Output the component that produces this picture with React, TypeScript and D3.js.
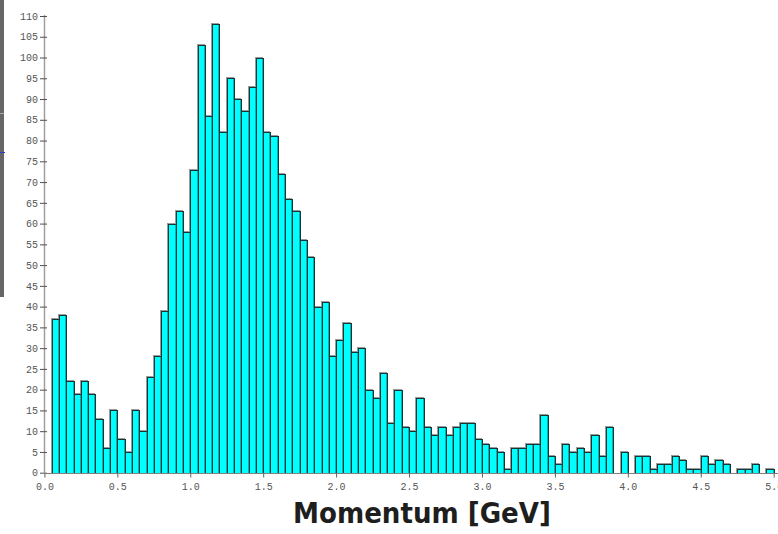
import React from 'react';
import { select, scaleLinear, axisLeft, axisBottom, range } from 'd3';

// momentum histogram, 0.05 GeV bins from 0.00 to 5.00
const counts = [
  0, 37, 38, 22, 19, 22, 19, 13, 6, 15,
  8, 5, 15, 10, 23, 28, 39, 60, 63, 58,
  73, 103, 86, 108, 82, 95, 90, 87, 93, 100,
  82, 81, 72, 66, 63, 56, 52, 40, 41, 28,
  32, 36, 29, 30, 20, 18, 24, 12, 20, 11,
  10, 18, 11, 9, 11, 9, 11, 12, 12, 8,
  7, 6, 5, 1, 6, 6, 7, 7, 14, 4,
  2, 7, 5, 6, 5, 9, 4, 11, 0, 5,
  0, 4, 4, 1, 2, 2, 4, 3, 1, 1,
  4, 2, 3, 2, 0, 1, 1, 2, 0, 1,
];
const binLow = range(counts.length).map(i => i * 0.05);
const binHigh = range(counts.length).map(i => (i + 1) * 0.05);

const xTicks = [0, 0.5, 1, 1.5, 2, 2.5, 3, 3.5, 4, 4.5, 5];
const yTicks = [0, 5, 10, 15, 20, 25, 30, 35, 40, 45, 50, 55, 60, 65, 70, 75, 80, 85, 90, 95, 100, 105, 110];
const title = 'Momentum [GeV]';

const W = 778;
const H = 534;

const x = scaleLinear().domain([0, 5]).range([44.4, 773.7]);
const y = scaleLinear().domain([0, 110]).range([472.7, 16]);

const App: React.FC = () => {
  const svgRef = React.useRef<SVGSVGElement>(null);

  React.useEffect(() => {
    const svg = select(svgRef.current);
    svg.selectAll('*').remove();

    // side strip
    svg.append('rect').attr('x', 0).attr('y', 0).attr('width', 4).attr('height', 297).attr('fill', '#666');
    svg.append('line').attr('x1', 0).attr('x2', 4).attr('y1', 113.5).attr('y2', 113.5).attr('stroke', '#aaa');
    svg.append('line').attr('x1', 0).attr('x2', 5).attr('y1', 152.5).attr('y2', 152.5).attr('stroke', '#2a3cd0');

    const bars = svg.append('g');
    const data = counts.map((c, i) => ({ c, lo: binLow[i], hi: binHigh[i] })).filter(d => d.c > 0);

    // faint shadow
    bars.selectAll('rect.shadow')
      .data(data)
      .join('rect')
      .attr('class', 'shadow')
      .attr('x', d => Math.round(x(d.lo)) - 0.5)
      .attr('y', d => Math.round(y(d.c)) - 0.5)
      .attr('width', d => Math.round(x(d.hi)) - Math.round(x(d.lo)))
      .attr('height', d => Math.round(y(0)) - Math.round(y(d.c)))
      .attr('fill', 'none')
      .attr('stroke', '#9a9a9a');

    bars.selectAll('rect.bar')
      .data(data)
      .join('rect')
      .attr('class', 'bar')
      .attr('x', d => Math.round(x(d.lo)) + 0.5)
      .attr('y', d => Math.round(y(d.c)) + 0.5)
      .attr('width', d => Math.round(x(d.hi)) - Math.round(x(d.lo)))
      .attr('height', d => Math.round(y(0)) - Math.round(y(d.c)))
      .attr('fill', '#00ffff')
      .attr('stroke', '#163636');

    // inner darker strip on the right side of each bar
    bars.selectAll('line.inner')
      .data(data)
      .join('line')
      .attr('class', 'inner')
      .attr('x1', d => Math.round(x(d.hi)) - 0.5)
      .attr('x2', d => Math.round(x(d.hi)) - 0.5)
      .attr('y1', d => Math.round(y(d.c)) + 1)
      .attr('y2', Math.round(y(0)))
      .attr('stroke', '#00b4b4');

    const font = "'Liberation Mono', 'DejaVu Sans Mono', monospace";

    const yAxis = axisLeft(y).tickValues(yTicks).tickSize(4).tickPadding(4).tickFormat(d => `${d}`);
    const gy = svg.append('g').attr('transform', `translate(${Math.round(x(0))},0)`).call(yAxis);
    gy.select('.domain').attr('stroke', '#a0a0a0').attr('stroke-width', 1.5).attr('d', `M0.5,${y(0)}V${y(110) - 1}`);
    gy.selectAll('.tick line').attr('stroke', '#505050').attr('x1', 3).attr('x2', -4);
    gy.selectAll('.tick text').attr('fill', '#555').attr('font-family', font).attr('font-size', 10).attr('x', -6);

    const xAxis = axisBottom(x).tickValues(xTicks).tickSize(4).tickPadding(5).tickFormat(d => (d as number).toFixed(1));
    const gx = svg.append('g').attr('transform', `translate(0,${Math.round(y(0)) + 0.5})`).call(xAxis);
    gx.select('.domain').attr('stroke', '#808080').attr('stroke-width', 1.2).attr('d', `M${x(0)},0H${W}`);
    gx.selectAll('.tick line').attr('stroke', '#606060');
    gx.selectAll('.tick text').attr('fill', '#555').attr('font-family', font).attr('font-size', 10);

    svg.append('text')
      .attr('x', 422)
      .attr('y', 523)
      .attr('text-anchor', 'middle')
      .attr('font-family', "'DejaVu Sans', sans-serif")
      .attr('font-stretch', 'condensed')
      .attr('font-weight', 'bold')
      .attr('font-size', 29)
      .attr('fill', '#1e1e1e')
      .text(title);
  }, []);

  return (
    <div style={{ position: 'absolute', left: 0, top: 0 }}>
      <svg ref={svgRef} width={W} height={H} style={{ display: 'block', background: '#fff' }}></svg>
    </div>
  );
};

export default App;
